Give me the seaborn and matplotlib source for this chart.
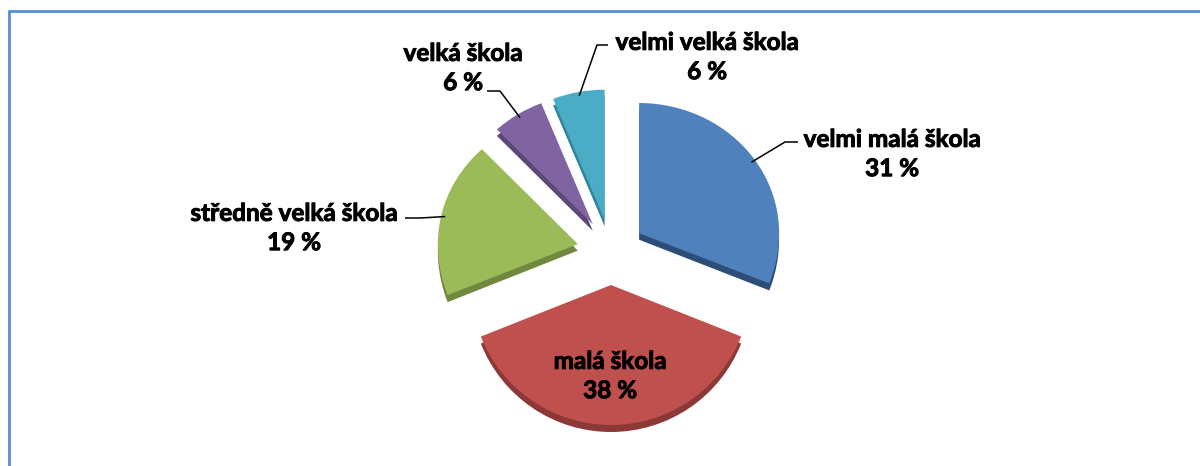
import matplotlib
matplotlib.use('Agg')
import matplotlib.pyplot as plt
import matplotlib.patches as mpatches
import matplotlib.patheffects as pe
import seaborn as sns
import numpy as np

# Data
categories = ['velmi malá škola', 'malá škola', 'středně velká škola',
              'velká škola', 'velmi velká škola']
shares = [31, 38, 19, 6, 6]
colors = ['#4F81BD', '#C0504D', '#9BBB59', '#8064A2', '#4BACC6']
side_colors = ['#2C4D75', '#8C3836', '#71893F', '#5C4776', '#31859C']

sns.set_theme(style='white')
plt.rcParams['font.family'] = ['Lato', 'DejaVu Sans']

W, H = 1200, 466
fig = plt.figure(figsize=(W / 100, H / 100), dpi=100)
ax = fig.add_axes([0, 0, 1, 1])

center = (611, H - 251)
radius = 140
explode = [34] * len(shares)
depth = 7
back_squash = 0.93  # fake perspective: back half of the pie is flatter


def persp(xy):
    xy = np.array(xy, dtype=float).reshape(-1, 2)
    dy = xy[:, 1] - center[1]
    xy[:, 1] = center[1] + np.where(dy > 0, dy * back_squash, dy)
    return xy


def flatten(wedges):
    # swap each wedge for a polygon with the perspective squash applied
    for w in wedges:
        for poly in w.get_path().to_polygons():
            ax.add_patch(mpatches.Polygon(persp(poly), closed=True,
                                          facecolor=w.get_facecolor(),
                                          linewidth=0, zorder=w.get_zorder()))
        w.set_visible(False)


# side faces (darker copy, shifted down)
side, _ = ax.pie(shares, colors=side_colors, startangle=90, counterclock=False,
                 radius=radius, center=(center[0], center[1] - depth),
                 explode=explode, wedgeprops=dict(linewidth=0), frame=True)
flatten(side)
wedges, _ = ax.pie(shares, colors=colors, startangle=90, counterclock=False,
                   radius=radius, center=center, explode=explode,
                   wedgeprops=dict(linewidth=0), frame=True)
flatten(wedges)
ax.set_xlim(0, W)
ax.set_ylim(0, H)
ax.set_aspect('equal')
ax.axis('off')

txt = dict(fontsize=17.5, fontweight='bold', color='black', ha='center',
           va='center', multialignment='center', linespacing=1.33,
           path_effects=[pe.withStroke(linewidth=0.7, foreground='black')])

# label layout: text centre, elbow point, line end (None = inside slice)
layout = [
    ((892, H - 154), (785, H - 142), (798, H - 142)),
    ((610, H - 376), None, None),
    ((294, H - 228), (420, H - 218), (405, H - 218)),
    ((463, H - 68), (500, H - 91), (487, H - 91)),
    ((707, H - 57), (597, H - 45), (608, H - 45)),
]

for w, cat, val, (tpos, elbow, end) in zip(wedges, categories, shares, layout):
    ax.text(tpos[0], tpos[1], f'{cat}\n{val} %', **txt)
    if elbow is None:
        continue
    mid = np.deg2rad((w.theta1 + w.theta2) / 2)
    start = persp([w.center[0] + radius * 0.97 * np.cos(mid),
                   w.center[1] + radius * 0.97 * np.sin(mid)])[0]
    ax.plot([start[0], elbow[0], end[0]], [start[1], elbow[1], end[1]],
            color='black', lw=1.1, solid_capstyle='butt')

# chart frame (only top and left edge visible)
fig.add_artist(mpatches.Rectangle((8.5 / W, -0.05), 1.1, (H - 10.5) / H + 0.05,
                                  transform=fig.transFigure, fill=False,
                                  edgecolor='#558ED5', lw=2))

fig.savefig('out.png', dpi=100)
